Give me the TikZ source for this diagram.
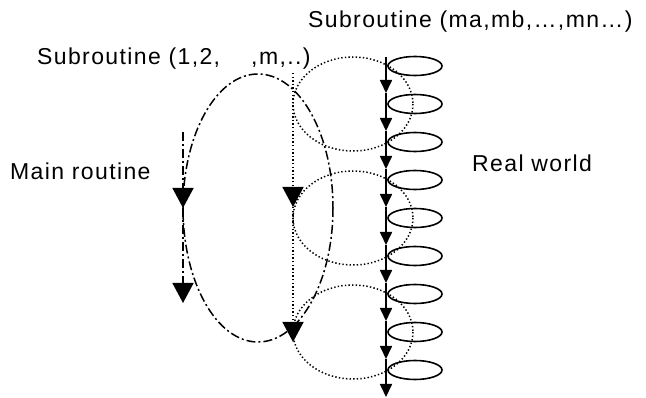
\documentclass[tikz,border=0pt]{standalone}
\usepackage{fontspec}
\newfontfamily\lblfont{Liberation Sans}[LetterSpace=6]
\usetikzlibrary{arrows.meta}
\begin{document}
\begin{tikzpicture}[x=1pt,y=-1pt,
  txt/.style={inner sep=0pt, anchor=base west, font=\lblfont\fontsize{23}{27}\selectfont},
  mainline/.style={line width=1.7pt, -{Triangle[width=12pt,length=13pt]}},
  dashdot/.style={line width=1.5pt, dash pattern=on 9pt off 3pt on 2pt off 3pt},
  dots/.style={line width=1.5pt, dash pattern=on 1.4pt off 2.2pt},
  bigtip/.style={-{Triangle[width=21pt,length=20pt]}}
]
\useasboundingbox (0,0) rectangle (646,398);

% texts
\node[txt] (t1) at (308,28) {Subroutine (ma,mb,…,mn…)};
\node[txt] (t2) at (37,65) {Subroutine (1,2,\ \ \ \ ,m,..)};
\node[txt] (t3) at (10,180) {Main routine};
\node[txt] (t4) at (472,172) {Real world};

% big dash-dot ellipse
\draw[dashdot] (258,208) ellipse [x radius=75, y radius=134];

% dotted loops
\foreach \yy in {104,218,332}
  \draw[dots] (353,\yy) ellipse [x radius=60, y radius=47];

% main routine line
\coordinate (a0) at (183,132);
\coordinate (a1) at (183,208);
\coordinate (a2) at (183,303);
\draw[dashdot,bigtip] (a0) -- (a1);
\draw[dashdot,bigtip] (a1) -- (a2);

% subroutine dotted line
\coordinate (b0) at (293,73);
\coordinate (b1) at (293,207);
\coordinate (b2) at (293,342);
\draw[dots,bigtip] (b0) -- (b1);
\draw[dots,bigtip] (b1) -- (b2);

% real world line
\coordinate (m0) at (386,57);
\foreach \k in {1,...,9}{
  \coordinate (m\k) at (386,{55+38*\k});
}
\foreach \k in {1,...,9}{
  \pgfmathtruncatemacro{\j}{\k-1}
  \draw[mainline] (m\j) -- (m\k);
}

% ellipses
\foreach \k in {0,...,8}{
  \draw[line width=1.6pt] (415,{66+38*\k}) ellipse [x radius=27, y radius=9.5];
}
\end{tikzpicture}
\end{document}
